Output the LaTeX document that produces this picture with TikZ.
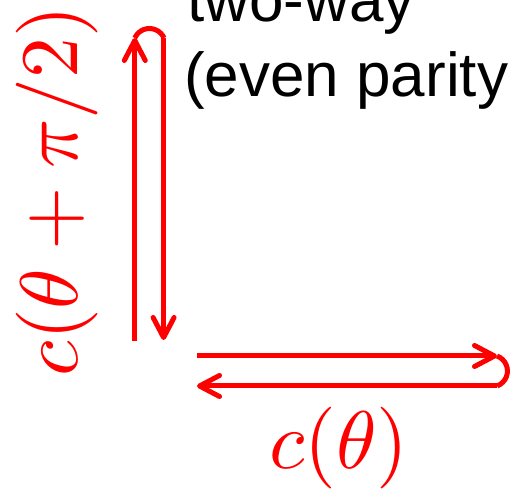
\documentclass[tikz,border=0pt]{standalone}
\usepackage{fontspec}
\newfontfamily\labelsans{Liberation Sans}
\usetikzlibrary{arrows.meta}
\begin{document}
\begin{tikzpicture}[x=1bp,y=1bp,
  loopline/.style={draw=red,line width=5bp},
  tipline/.style={loopline,-{Straight Barb[length=20bp,width=21bp,round]}},
  mathlabel/.style={text=red,inner sep=0pt,anchor=base,scale=8.2},
  sanslabel/.style={text=black,inner sep=0pt,anchor=base west,font=\labelsans\fontsize{62bp}{70bp}\selectfont}]
\useasboundingbox (0,0) rectangle (510,489);
% vertical loop
\coordinate (vl0) at (134.8,148);
\coordinate (vl1) at (134.8,451);
\coordinate (vr1) at (163.6,451);
\coordinate (vr0) at (163.6,149);
\draw[tipline] (vl0) -- (vl1);
\draw[loopline] (vl1) arc[start angle=156,end angle=24,radius=16];
\draw[tipline] (vr1) -- (vr0);
% horizontal loop
\coordinate (ht0) at (197,133);
\coordinate (ht1) at (497,133);
\coordinate (hb1) at (497,103);
\coordinate (hb0) at (197,103);
\draw[tipline] (ht0) -- (ht1);
\draw[loopline] (ht1) arc[start angle=69.6,end angle=-69.6,radius=16];
\draw[tipline] (hb1) -- (hb0);
% labels
\node[mathlabel,rotate=90] (lv) at (77.5,298) {$c(\theta+\pi/2)$};
\node[mathlabel] (lh) at (339,20) {$c(\theta)$};
\node[sanslabel] (t1) at (187,467.5) {two-way};
\node[sanslabel] (t2) at (184,392) {(even parity};
\end{tikzpicture}
\end{document}
